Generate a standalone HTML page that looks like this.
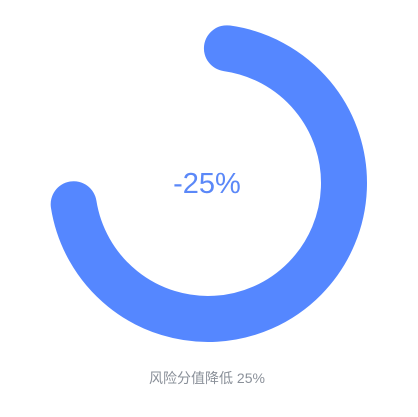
<!DOCTYPE html>
<html><head><meta charset="utf-8"><style>
html,body{margin:0;padding:0;background:#fff;width:418px;height:417px;overflow:hidden}
</style></head><body>
<svg id="chart" width="418" height="417" viewBox="0 0 418 417">
<text x="207" y="193" text-anchor="middle" font-family="Liberation Sans, sans-serif" font-size="29" fill="#5b88f8">-25%</text>
<text x="207" y="383" text-anchor="middle" font-family="Liberation Sans, 'Noto Sans CJK SC', sans-serif" font-size="14" fill="#8a9099">风险分值降低 25%</text>
</svg>
<script>
const startAngles = [8];      // degrees clockwise from 12 o'clock
const endAngles = [261];
const cx = 208, cy = 183, r = 136, w = 46;
const svg = document.getElementById('chart');
function pt(a){const t=(a-90)*Math.PI/180;return [cx+r*Math.cos(t),cy+r*Math.sin(t)];}
startAngles.forEach((s,i)=>{
  const e=endAngles[i];
  const [x1,y1]=pt(s),[x2,y2]=pt(e);
  const large=(e-s)>180?1:0;
  const p=document.createElementNS('http://www.w3.org/2000/svg','path');
  p.setAttribute('d',`M${x1} ${y1} A${r} ${r} 0 ${large} 1 ${x2} ${y2}`);
  p.setAttribute('fill','none');
  p.setAttribute('stroke','#5587ff');
  p.setAttribute('stroke-width',w);
  p.setAttribute('stroke-linecap','round');
  
  
  svg.insertBefore(p, svg.firstChild);
});
</script>
</body></html>
